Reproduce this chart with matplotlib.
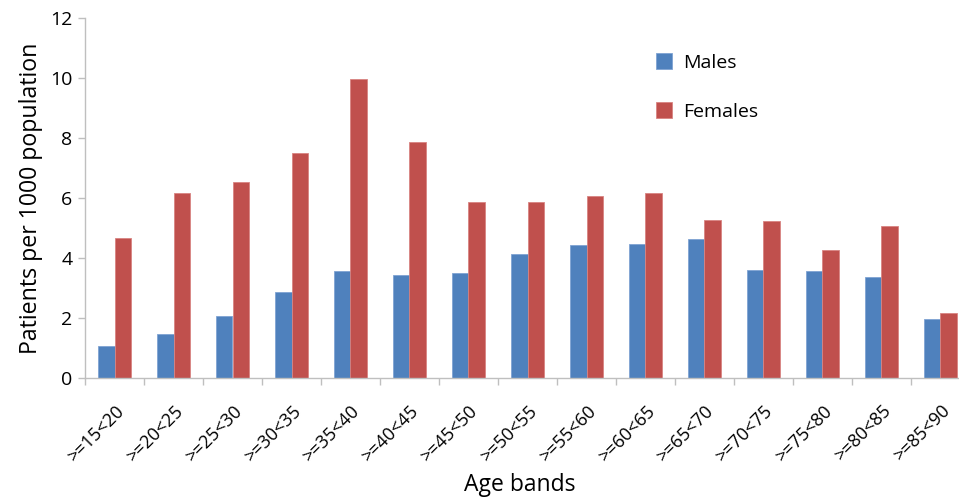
import matplotlib
matplotlib.use("Agg")
import matplotlib.pyplot as plt
import numpy as np

categories = [">=15<20", ">=20<25", ">=25<30", ">=30<35", ">=35<40", ">=40<45",
              ">=45<50", ">=50<55", ">=55<60", ">=60<65", ">=65<70", ">=70<75",
              ">=75<80", ">=80<85", ">=85<90"]
males = [1.06, 1.47, 2.09, 2.89, 3.58, 3.44, 3.50, 4.14, 4.43, 4.49, 4.64, 3.61, 3.58, 3.36, 1.99]
females = [4.66, 6.17, 6.54, 7.50, 9.98, 7.87, 5.88, 5.88, 6.06, 6.17, 5.26, 5.23, 4.28, 5.08, 2.17]

plt.rcParams['font.family'] = ['Open Sans', 'DejaVu Sans']

fig = plt.figure(figsize=(9.59, 4.98), dpi=100)
ax = fig.add_axes([85/959, 119.7/498, 885/959, 360/498])

x = np.arange(len(categories))
w = 0.28
ax.bar(x - w/2, males, width=w, color='#4F81BD', edgecolor='#7FA3D3', linewidth=0.6, label='Males')
ax.bar(x + w/2, females, width=w, color='#C0504D', edgecolor='#D88482', linewidth=0.6, label='Females')

ax.set_xlim(-0.5, len(categories) - 0.5)
ax.set_ylim(0, 12)
ax.set_yticks(np.arange(0, 13, 2))
ax.tick_params(axis='y', labelsize=14, length=5, color='#BFBFBF', width=1, pad=4)

ax.set_xticks(x)
ax.set_xticklabels(categories, rotation=45, ha='right', va='top', rotation_mode='anchor', fontsize=13)
ax.tick_params(axis='x', which='major', length=0, pad=17)
ax.set_xticks(np.arange(-0.5, len(categories), 1), minor=True)
ax.tick_params(axis='x', which='minor', length=5, color='#BFBFBF', width=1)

for s in ['top', 'right']:
    ax.spines[s].set_visible(False)
for s in ['left', 'bottom']:
    ax.spines[s].set_color('#BFBFBF')
    ax.spines[s].set_linewidth(1)

ax.set_ylabel('Patients per 1000 population', fontsize=16.7, labelpad=5)
fig.text(520/959, 1 - 485/498, 'Age bands', fontsize=16.5, ha='center', va='center')

ax.legend(loc='upper left', bbox_to_anchor=(638/959, 1 - 36/498), bbox_transform=fig.transFigure,
          frameon=False, fontsize=14, handlelength=0.85, handleheight=0.85, labelspacing=1.55,
          handletextpad=0.55)

fig.savefig('out.png', dpi=100)
